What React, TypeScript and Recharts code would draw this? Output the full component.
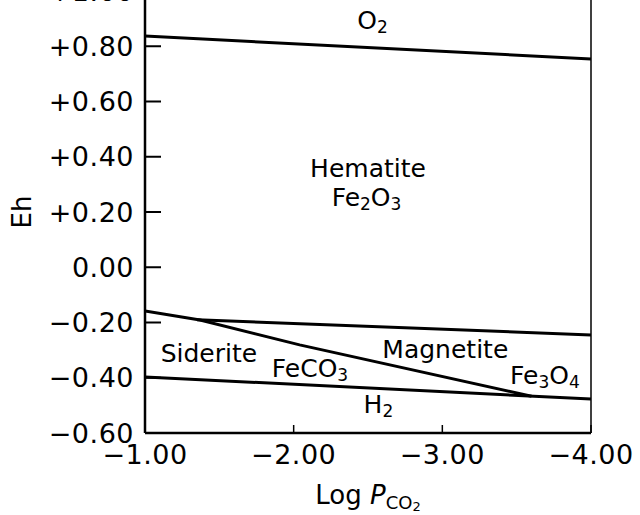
import React from 'react';
import { LineChart, Line, XAxis, YAxis, ReferenceLine, ReferenceDot } from 'recharts';

const FONT = '"DejaVu Sans", sans-serif';

const ehTicks = [-0.6, -0.4, -0.2, 0, 0.2, 0.4, 0.6, 0.8, 1.0];
const logPTicks = [-1, -2, -3, -4];

// field boundaries (x = log Pco2, y = Eh)
const o2Boundary = [
  { x: -1, y: 0.837 },
  { x: -4, y: 0.754 },
];
const hematiteMagnetite = [
  { x: -1.35, y: -0.19 },
  { x: -4, y: -0.245 },
];
const sideriteUpper = [
  { x: -1, y: -0.158 },
  { x: -1.37, y: -0.191 },
  { x: -2.04, y: -0.281 },
  { x: -3.6, y: -0.467 },
];
const h2Boundary = [
  { x: -1, y: -0.397 },
  { x: -4, y: -0.477 },
];

type Part = [string, boolean];

const regionLabels: { x: number; y: number; parts: Part[] }[] = [
  { x: -2.53, y: 0.895, parts: [['O', false], ['2', true]] },
  { x: -2.5, y: 0.359, parts: [['Hematite', false]] },
  { x: -2.49, y: 0.254, parts: [['Fe', false], ['2', true], ['O', false], ['3', true]] },
  { x: -1.43, y: -0.31, parts: [['Siderite', false]] },
  { x: -2.11, y: -0.365, parts: [['FeCO', false], ['3', true]] },
  { x: -3.02, y: -0.296, parts: [['Magnetite', false]] },
  { x: -3.69, y: -0.39, parts: [['Fe', false], ['3', true], ['O', false], ['4', true]] },
  { x: -2.57, y: -0.495, parts: [['H', false], ['2', true]] },
];

const fmtEh = (v: number) => {
  if (Math.abs(v) < 1e-9) return '0.00';
  return (v > 0 ? '+' : '\u2212') + Math.abs(v).toFixed(2);
};
const fmtLogP = (v: number) => '\u2212' + Math.abs(v).toFixed(2);

const ChemText = ({ x, y, parts }: { x: number; y: number; parts: Part[] }) => {
  let down = false;
  return (
    <text x={x} y={y} textAnchor="middle" dominantBaseline="central" fontFamily={FONT} fontSize={25} fill="#000">
      {parts.map(([t, sub], i) => {
        let dy = 0;
        if (sub && !down) dy = 7;
        if (!sub && down) dy = -7;
        down = sub;
        return (
          <tspan key={i} dy={dy} fontSize={sub ? 17 : 25}>
            {t}
          </tspan>
        );
      })}
    </text>
  );
};

const regionContent = (parts: Part[]) => (props: any) => {
  const vb = props.viewBox;
  return <ChemText x={vb.x + vb.width / 2} y={vb.y + vb.height / 2} parts={parts} />;
};

const xTitle = (props: any) => {
  const vb = props.viewBox;
  return (
    <text x={vb.x + vb.width / 2} y={vb.y + 62} textAnchor="middle" dominantBaseline="central" fontFamily={FONT} fontSize={26} fill="#000">
      <tspan>Log </tspan>
      <tspan fontStyle="italic">P</tspan>
      <tspan fontSize={18} dy={7}>CO</tspan>
      <tspan fontSize={13} dy={4}>2</tspan>
    </text>
  );
};

const yTitle = (props: any) => {
  const vb = props.viewBox;
  const cx = 22;
  const cy = vb.y + vb.height / 2;
  return (
    <text x={cx} y={cy} textAnchor="middle" dominantBaseline="central" fontFamily={FONT} fontSize={26} fill="#000" transform={`rotate(-90 ${cx} ${cy})`}>
      Eh
    </text>
  );
};

const tickStyle = { fontFamily: FONT, fontSize: 27, fill: '#000', letterSpacing: 0.5 };

export default function App() {
  return (
    <div style={{ position: 'absolute', left: 0, top: -30, width: 640, height: 545 }}>
      <LineChart width={640} height={545} margin={{ top: 21, right: 49, left: 0, bottom: 0 }}>
        <XAxis
          type="number"
          dataKey="x"
          domain={[-4, -1]}
          reversed
          ticks={logPTicks}
          interval={0}
          allowDataOverflow
          tickFormatter={fmtLogP}
          tick={tickStyle}
          tickSize={-8}
          tickMargin={20}
          height={82}
          axisLine={{ stroke: '#000', strokeWidth: 2.5 }}
          tickLine={{ stroke: '#000', strokeWidth: 1.5 }}
          label={{ content: xTitle }}
        />
        <YAxis
          type="number"
          dataKey="y"
          domain={[-0.6, 1.0]}
          ticks={ehTicks}
          interval={0}
          allowDataOverflow
          tickFormatter={fmtEh}
          tick={tickStyle}
          tickSize={-16}
          tickMargin={27}
          width={145}
          axisLine={{ stroke: '#000', strokeWidth: 2.5 }}
          tickLine={{ stroke: '#000', strokeWidth: 2 }}
          label={{ content: yTitle }}
        />
        <ReferenceLine x={-4} stroke="#000" strokeWidth={1.5} />
        <ReferenceLine y={1.0} stroke="#000" strokeWidth={1.5} />
        <Line data={o2Boundary} dataKey="y" stroke="#000" strokeWidth={3} dot={false} isAnimationActive={false} type="linear" />
        <Line data={hematiteMagnetite} dataKey="y" stroke="#000" strokeWidth={3} dot={false} isAnimationActive={false} type="linear" />
        <Line data={sideriteUpper} dataKey="y" stroke="#000" strokeWidth={3} dot={false} isAnimationActive={false} type="linear" />
        <Line data={h2Boundary} dataKey="y" stroke="#000" strokeWidth={3} dot={false} isAnimationActive={false} type="linear" />
        {regionLabels.map((l, i) => (
          <ReferenceDot key={i} x={l.x} y={l.y} r={0} fill="none" stroke="none" label={{ content: regionContent(l.parts) }} />
        ))}
      </LineChart>
    </div>
  );
}
